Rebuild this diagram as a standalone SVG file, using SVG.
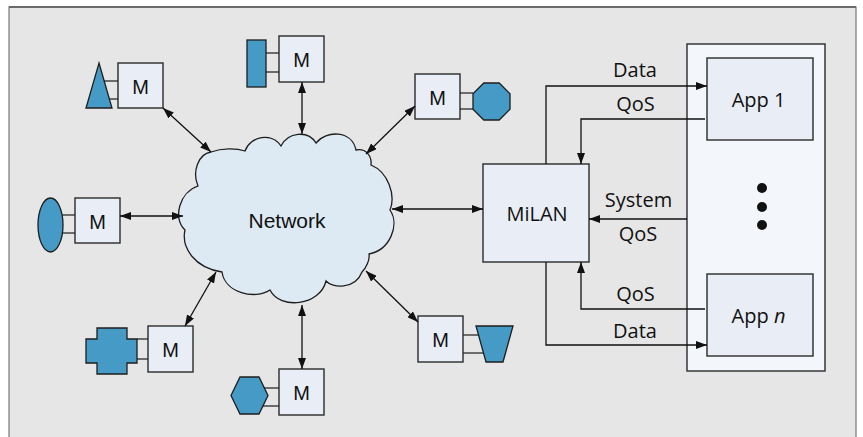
<svg xmlns="http://www.w3.org/2000/svg" width="863" height="437" viewBox="0 0 863 437">
<style>
.box{fill:#e9eef6;stroke:#2a2a2a;stroke-width:1.4}
.shape{fill:#459bc6;stroke:#1e1e1e;stroke-width:1.3}
.stub{stroke:#2a2a2a;stroke-width:1.3;fill:none}
.m{font-family:"Liberation Sans",Arial,sans-serif;font-size:20px;fill:#111;text-anchor:middle}
.lbl{font-family:"Open Sans","Noto Sans",sans-serif;font-size:20px;fill:#111;text-anchor:middle}
.con{stroke:#111;stroke-width:1.3;fill:none}
.dbl{marker-start:url(#ah);marker-end:url(#ah)}
.one{marker-end:url(#ah)}
</style>
<defs>
<marker id="ah" viewBox="0 0 11 8" refX="11" refY="4" markerWidth="11" markerHeight="8" markerUnits="userSpaceOnUse" orient="auto-start-reverse">
<path d="M0,0 L11,4 L0,8 z" fill="#111"/>
</marker>
</defs>
<rect x="0" y="0" width="863" height="437" fill="#ffffff"/>
<rect x="9" y="7" width="847" height="440" fill="#e6e6e6" stroke="#777" stroke-width="1.2"/>
<line x1="9" y1="7" x2="856" y2="7" stroke="#6a6a6a" stroke-width="2"/>

<g id="apps">
<rect x="687" y="44" width="138" height="327" fill="#f3f6fa" stroke="#2a2a2a" stroke-width="1.4"/>
<g id="app1">
<rect class="box" x="707" y="58" width="106" height="82"/>
<text class="lbl" x="758.5" y="107">App 1</text>
</g>
<g id="dots">
<circle cx="762" cy="188" r="5" fill="#111"/>
<circle cx="762" cy="207" r="5" fill="#111"/>
<circle cx="762" cy="225" r="5" fill="#111"/>
</g>
<g id="appn">
<rect class="box" x="707" y="274" width="106" height="82"/>
<text class="lbl" x="758.5" y="323">App <tspan font-style="italic">n</tspan></text>
</g>
</g>

<g id="network">
<path d="M211,152 C222,148 236,148 245,151 C250,136 272,132 281,146 C288,132 308,130 316,143 C326,130 352,130 356,150 C366,148 372,156 371,165 C388,172 396,195 390,210 C400,225 390,250 369,254 C370,260 366,268 362,272 C355,290 332,288 326,281 C320,306 280,310 270,290 C255,300 225,293 222,272 C195,268 181,248 185,230 C172,218 180,192 198,186 C192,172 198,154 211,152 Z" fill="#ddeaf3" stroke="#1e1e1e" stroke-width="1.3"/>
<text class="m" x="287" y="228" style="font-size:21px">Network</text>
</g>

<g id="node-triangle">
<line class="stub" x1="104" y1="81" x2="118" y2="81"/>
<line class="stub" x1="109" y1="99" x2="118" y2="99"/>
<polygon class="shape" points="99,63 112,108 86,108"/>
<rect class="box" x="118" y="63" width="45" height="45"/>
<text class="m" x="140.5" y="94">M</text>
</g>

<g id="node-rect">
<line class="stub" x1="266" y1="53" x2="279" y2="53"/>
<line class="stub" x1="266" y1="72" x2="279" y2="72"/>
<rect class="shape" x="247" y="40" width="19" height="47"/>
<rect class="box" x="279" y="36" width="45" height="46"/>
<text class="m" x="301.5" y="67">M</text>
</g>

<g id="node-octagon">
<line class="stub" x1="460" y1="93" x2="473" y2="93"/>
<line class="stub" x1="460" y1="109" x2="473" y2="109"/>
<rect class="box" x="415" y="74" width="45" height="45"/>
<polygon class="shape" points="483.8,83 499.2,83 510,93.8 510,109.2 499.2,120 483.8,120 473,109.2 473,93.8"/>
<text class="m" x="437.5" y="105">M</text>
</g>

<g id="node-ellipse">
<line class="stub" x1="62" y1="215" x2="75" y2="215"/>
<line class="stub" x1="62" y1="233" x2="75" y2="233"/>
<ellipse class="shape" cx="50.5" cy="225" rx="12.5" ry="27"/>
<rect class="box" x="75" y="198" width="45" height="45"/>
<text class="m" x="97.5" y="229">M</text>
</g>

<g id="node-cross">
<line class="stub" x1="137" y1="339" x2="148" y2="339"/>
<line class="stub" x1="137" y1="359" x2="148" y2="359"/>
<polygon class="shape" points="97,328 127,328 127,339 137,339 137,363 127,363 127,374 97,374 97,363 86,363 86,339 97,339"/>
<rect class="box" x="148" y="326" width="45" height="46"/>
<text class="m" x="170.5" y="357">M</text>
</g>

<g id="node-hexagon">
<line class="stub" x1="264" y1="388" x2="279" y2="388"/>
<line class="stub" x1="263" y1="406" x2="279" y2="406"/>
<polygon class="shape" points="231,395.5 240,377 259,377 268,395.5 259,414 240,414"/>
<rect class="box" x="279" y="369" width="45" height="46"/>
<text class="m" x="301.5" y="400">M</text>
</g>

<g id="node-trapezoid">
<line class="stub" x1="463" y1="335" x2="479" y2="335"/>
<line class="stub" x1="463" y1="353" x2="484" y2="353"/>
<rect class="box" x="418" y="316" width="45" height="46"/>
<polygon class="shape" points="476,326 513,326 503,362 486,362"/>
<text class="m" x="440.5" y="347">M</text>
</g>

<g id="milan">
<rect class="box" x="483" y="164" width="106" height="98"/>
<text class="lbl" x="537" y="221">MiLAN</text>
</g>

<g id="connectors">
<path class="con dbl" d="M163,108 L211,152"/>
<path class="con dbl" d="M302,82 L302,134"/>
<path class="con dbl" d="M415,106 L366,154"/>
<path class="con dbl" d="M120,216 L183,216"/>
<path class="con dbl" d="M392,209 L483,209"/>
<path class="con dbl" d="M185,326 L216,272"/>
<path class="con dbl" d="M302,305 L302,369"/>
<path class="con dbl" d="M366,271 L418,322"/>
<path class="con one" d="M546,164 V86 H707"/>
<path class="con one" d="M705,119 H581 V164"/>
<path class="con one" d="M687,219 H589"/>
<path class="con one" d="M705,309 H581 V262"/>
<path class="con one" d="M546,262 V345 H707"/>
<text class="lbl" x="635" y="77">Data</text>
<text class="lbl" x="635.5" y="111">QoS</text>
<text class="lbl" x="638.5" y="207">System</text>
<text class="lbl" x="638" y="241">QoS</text>
<text class="lbl" x="635.5" y="301">QoS</text>
<text class="lbl" x="635" y="338">Data</text>
</g>
</svg>
